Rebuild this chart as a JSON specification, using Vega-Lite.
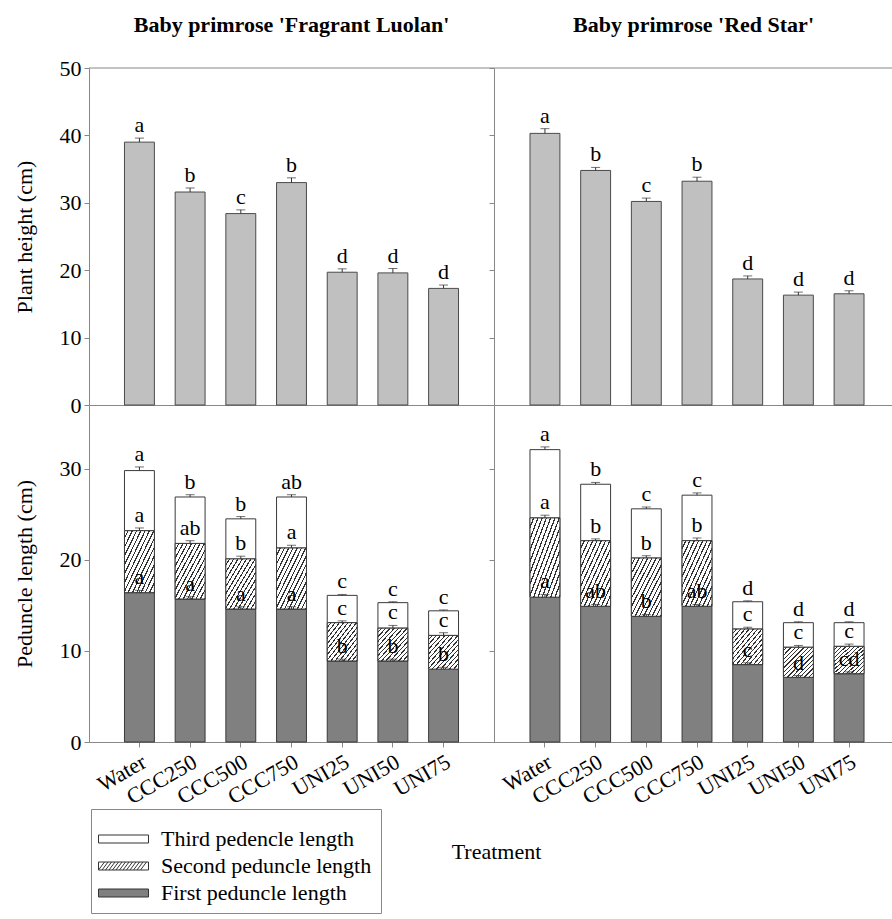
{
  "$schema": "https://vega.github.io/schema/vega-lite/v6.json",
  "padding": {"left": 13, "top": 13, "right": 0, "bottom": 0},
  "bounds": "flush",
  "spacing": 0,
  "columns": 2,
  "config": {
    "font": "Liberation Serif",
    "view": {"stroke": null},
    "axis": {"grid": false, "domainColor": "#888", "tickColor": "#888", "labelFontSize": 22, "titleFontSize": 22, "titleFontWeight": "normal", "labelColor": "#000", "titleColor": "#000", "tickSize": 5, "labelPadding": 3},
    "title": {"fontSize": 22, "fontWeight": "bold", "color": "#000"}
  },
  "datasets": {
    "height": [
      {"c": "Fragrant Luolan", "t": "Water", "v": 39.0, "up": 39.6, "g": "a"},
      {"c": "Fragrant Luolan", "t": "CCC250", "v": 31.6, "up": 32.2, "g": "b"},
      {"c": "Fragrant Luolan", "t": "CCC500", "v": 28.4, "up": 28.95, "g": "c"},
      {"c": "Fragrant Luolan", "t": "CCC750", "v": 33.0, "up": 33.7, "g": "b"},
      {"c": "Fragrant Luolan", "t": "UNI25", "v": 19.7, "up": 20.2, "g": "d"},
      {"c": "Fragrant Luolan", "t": "UNI50", "v": 19.6, "up": 20.25, "g": "d"},
      {"c": "Fragrant Luolan", "t": "UNI75", "v": 17.3, "up": 17.8, "g": "d"},
      {"c": "Red Star", "t": "Water", "v": 40.3, "up": 41.0, "g": "a"},
      {"c": "Red Star", "t": "CCC250", "v": 34.8, "up": 35.25, "g": "b"},
      {"c": "Red Star", "t": "CCC500", "v": 30.2, "up": 30.7, "g": "c"},
      {"c": "Red Star", "t": "CCC750", "v": 33.2, "up": 33.8, "g": "b"},
      {"c": "Red Star", "t": "UNI25", "v": 18.7, "up": 19.15, "g": "d"},
      {"c": "Red Star", "t": "UNI50", "v": 16.3, "up": 16.75, "g": "d"},
      {"c": "Red Star", "t": "UNI75", "v": 16.5, "up": 16.95, "g": "d"}
    ],
    "ped": [
      {"c": "Fragrant Luolan", "t": "Water", "s": "First peduncle length", "lo": 0, "hi": 16.4, "up": 16.65, "g": "a"},
      {"c": "Fragrant Luolan", "t": "Water", "s": "Second peduncle length", "lo": 16.4, "hi": 23.2, "up": 23.5, "g": "a"},
      {"c": "Fragrant Luolan", "t": "Water", "s": "Third pedencle length", "lo": 23.2, "hi": 29.8, "up": 30.2, "g": "a"},
      {"c": "Fragrant Luolan", "t": "CCC250", "s": "First peduncle length", "lo": 0, "hi": 15.7, "up": 15.95, "g": "a"},
      {"c": "Fragrant Luolan", "t": "CCC250", "s": "Second peduncle length", "lo": 15.7, "hi": 21.8, "up": 22.1, "g": "ab"},
      {"c": "Fragrant Luolan", "t": "CCC250", "s": "Third pedencle length", "lo": 21.8, "hi": 26.9, "up": 27.15, "g": "b"},
      {"c": "Fragrant Luolan", "t": "CCC500", "s": "First peduncle length", "lo": 0, "hi": 14.6, "up": 14.85, "g": "a"},
      {"c": "Fragrant Luolan", "t": "CCC500", "s": "Second peduncle length", "lo": 14.6, "hi": 20.1, "up": 20.4, "g": "b"},
      {"c": "Fragrant Luolan", "t": "CCC500", "s": "Third pedencle length", "lo": 20.1, "hi": 24.5, "up": 24.75, "g": "b"},
      {"c": "Fragrant Luolan", "t": "CCC750", "s": "First peduncle length", "lo": 0, "hi": 14.6, "up": 14.85, "g": "a"},
      {"c": "Fragrant Luolan", "t": "CCC750", "s": "Second peduncle length", "lo": 14.6, "hi": 21.3, "up": 21.6, "g": "a"},
      {"c": "Fragrant Luolan", "t": "CCC750", "s": "Third pedencle length", "lo": 21.3, "hi": 26.9, "up": 27.15, "g": "ab"},
      {"c": "Fragrant Luolan", "t": "UNI25", "s": "First peduncle length", "lo": 0, "hi": 8.9, "up": 9.1, "g": "b"},
      {"c": "Fragrant Luolan", "t": "UNI25", "s": "Second peduncle length", "lo": 8.9, "hi": 13.1, "up": 13.3, "g": "c"},
      {"c": "Fragrant Luolan", "t": "UNI25", "s": "Third pedencle length", "lo": 13.1, "hi": 16.1, "up": 16.2, "g": "c"},
      {"c": "Fragrant Luolan", "t": "UNI50", "s": "First peduncle length", "lo": 0, "hi": 8.9, "up": 9.1, "g": "b"},
      {"c": "Fragrant Luolan", "t": "UNI50", "s": "Second peduncle length", "lo": 8.9, "hi": 12.5, "up": 12.8, "g": "c"},
      {"c": "Fragrant Luolan", "t": "UNI50", "s": "Third pedencle length", "lo": 12.5, "hi": 15.3, "up": 15.4, "g": "c"},
      {"c": "Fragrant Luolan", "t": "UNI75", "s": "First peduncle length", "lo": 0, "hi": 8.0, "up": 8.2, "g": "b"},
      {"c": "Fragrant Luolan", "t": "UNI75", "s": "Second peduncle length", "lo": 8.0, "hi": 11.7, "up": 12.0, "g": "c"},
      {"c": "Fragrant Luolan", "t": "UNI75", "s": "Third pedencle length", "lo": 11.7, "hi": 14.4, "up": 14.5, "g": "c"},
      {"c": "Red Star", "t": "Water", "s": "First peduncle length", "lo": 0, "hi": 15.9, "up": 16.2, "g": "a"},
      {"c": "Red Star", "t": "Water", "s": "Second peduncle length", "lo": 15.9, "hi": 24.6, "up": 24.9, "g": "a"},
      {"c": "Red Star", "t": "Water", "s": "Third pedencle length", "lo": 24.6, "hi": 32.1, "up": 32.4, "g": "a"},
      {"c": "Red Star", "t": "CCC250", "s": "First peduncle length", "lo": 0, "hi": 14.9, "up": 15.1, "g": "ab"},
      {"c": "Red Star", "t": "CCC250", "s": "Second peduncle length", "lo": 14.9, "hi": 22.1, "up": 22.3, "g": "b"},
      {"c": "Red Star", "t": "CCC250", "s": "Third pedencle length", "lo": 22.1, "hi": 28.3, "up": 28.5, "g": "b"},
      {"c": "Red Star", "t": "CCC500", "s": "First peduncle length", "lo": 0, "hi": 13.8, "up": 14.0, "g": "b"},
      {"c": "Red Star", "t": "CCC500", "s": "Second peduncle length", "lo": 13.8, "hi": 20.2, "up": 20.45, "g": "b"},
      {"c": "Red Star", "t": "CCC500", "s": "Third pedencle length", "lo": 20.2, "hi": 25.6, "up": 25.8, "g": "c"},
      {"c": "Red Star", "t": "CCC750", "s": "First peduncle length", "lo": 0, "hi": 14.9, "up": 15.1, "g": "ab"},
      {"c": "Red Star", "t": "CCC750", "s": "Second peduncle length", "lo": 14.9, "hi": 22.1, "up": 22.4, "g": "b"},
      {"c": "Red Star", "t": "CCC750", "s": "Third pedencle length", "lo": 22.1, "hi": 27.1, "up": 27.35, "g": "c"},
      {"c": "Red Star", "t": "UNI25", "s": "First peduncle length", "lo": 0, "hi": 8.5, "up": 8.7, "g": "c"},
      {"c": "Red Star", "t": "UNI25", "s": "Second peduncle length", "lo": 8.5, "hi": 12.4, "up": 12.6, "g": "c"},
      {"c": "Red Star", "t": "UNI25", "s": "Third pedencle length", "lo": 12.4, "hi": 15.4, "up": 15.5, "g": "d"},
      {"c": "Red Star", "t": "UNI50", "s": "First peduncle length", "lo": 0, "hi": 7.1, "up": 7.3, "g": "d"},
      {"c": "Red Star", "t": "UNI50", "s": "Second peduncle length", "lo": 7.1, "hi": 10.4, "up": 10.6, "g": "c"},
      {"c": "Red Star", "t": "UNI50", "s": "Third pedencle length", "lo": 10.4, "hi": 13.1, "up": 13.2, "g": "d"},
      {"c": "Red Star", "t": "UNI75", "s": "First peduncle length", "lo": 0, "hi": 7.5, "up": 7.7, "g": "cd"},
      {"c": "Red Star", "t": "UNI75", "s": "Second peduncle length", "lo": 7.5, "hi": 10.5, "up": 10.75, "g": "c"},
      {"c": "Red Star", "t": "UNI75", "s": "Third pedencle length", "lo": 10.5, "hi": 13.1, "up": 13.2, "g": "d"}
    ]
  },
  "resolve": {"scale": {"fill": "independent"}, "legend": {"fill": "independent"}},
  "concat": [
    {
      "width": 405, "height": 337,
      "title": {"text": "Baby primrose 'Fragrant Luolan'", "offset": 20},
      "data": {"name": "height"},
      "transform": [{"filter": "datum.c === 'Fragrant Luolan'"}],
      "layer": [
        {"mark": {"type": "bar", "fill": "#c0c0c0", "stroke": "#4a4a4a", "strokeWidth": 1},
         "encoding": {
           "x": {"field": "t", "type": "nominal", "sort": ["Water","CCC250","CCC500","CCC750","UNI25","UNI50","UNI75"], "scale": {"paddingInner": 0.41, "paddingOuter": 0.7}, "axis": {"title": null, "labels": false, "ticks": false, "domain": true}},
           "y": {"field": "v", "type": "quantitative", "scale": {"domain": [0, 50], "nice": false}, "axis": {"title": "Plant height (cm)", "values": [0,10,20,30,40,50], "titlePadding": 23}}
         }},
        {"mark": {"type": "rule", "color": "#333", "strokeWidth": 1},
         "encoding": {"x": {"field": "t", "type": "nominal", "sort": ["Water","CCC250","CCC500","CCC750","UNI25","UNI50","UNI75"]}, "y": {"field": "v", "type": "quantitative"}, "y2": {"field": "up"}}},
        {"mark": {"type": "tick", "color": "#333", "size": 9, "thickness": 1},
         "encoding": {"x": {"field": "t", "type": "nominal", "sort": ["Water","CCC250","CCC500","CCC750","UNI25","UNI50","UNI75"]}, "y": {"field": "up", "type": "quantitative"}}},
        {"mark": {"type": "text", "dy": -6, "baseline": "alphabetic", "fontSize": 22, "color": "#000"},
         "encoding": {"x": {"field": "t", "type": "nominal", "sort": ["Water","CCC250","CCC500","CCC750","UNI25","UNI50","UNI75"]}, "y": {"field": "up", "type": "quantitative"}, "text": {"field": "g"}}},
        {"data": {"values": [{}]}, "mark": {"type": "rule", "color": "#888", "strokeWidth": 1},
         "encoding": {"y": {"datum": 50, "type": "quantitative"}}}
      ]
    },
    {
      "width": 399, "height": 337,
      "title": {"text": "Baby primrose 'Red Star'", "offset": 31},
      "data": {"name": "height"},
      "transform": [{"filter": "datum.c === 'Red Star'"}],
      "layer": [
        {"mark": {"type": "bar", "fill": "#c0c0c0", "stroke": "#4a4a4a", "strokeWidth": 1},
         "encoding": {
           "x": {"field": "t", "type": "nominal", "sort": ["Water","CCC250","CCC500","CCC750","UNI25","UNI50","UNI75"], "scale": {"paddingInner": 0.41, "paddingOuter": 0.6407, "align": 0.554}, "axis": {"title": null, "labels": false, "ticks": false, "domain": true}},
           "y": {"field": "v", "type": "quantitative", "scale": {"domain": [0, 50], "nice": false}, "axis": {"title": null, "labels": false, "values": [0,10,20,30,40,50]}}
         }},
        {"mark": {"type": "rule", "color": "#333", "strokeWidth": 1},
         "encoding": {"x": {"field": "t", "type": "nominal", "sort": ["Water","CCC250","CCC500","CCC750","UNI25","UNI50","UNI75"]}, "y": {"field": "v", "type": "quantitative"}, "y2": {"field": "up"}}},
        {"mark": {"type": "tick", "color": "#333", "size": 9, "thickness": 1},
         "encoding": {"x": {"field": "t", "type": "nominal", "sort": ["Water","CCC250","CCC500","CCC750","UNI25","UNI50","UNI75"]}, "y": {"field": "up", "type": "quantitative"}}},
        {"mark": {"type": "text", "dy": -6, "baseline": "alphabetic", "fontSize": 22, "color": "#000"},
         "encoding": {"x": {"field": "t", "type": "nominal", "sort": ["Water","CCC250","CCC500","CCC750","UNI25","UNI50","UNI75"]}, "y": {"field": "up", "type": "quantitative"}, "text": {"field": "g"}}},
        {"data": {"values": [{}]}, "mark": {"type": "rule", "color": "#888", "strokeWidth": 1},
         "encoding": {"y": {"datum": 50, "type": "quantitative"}}}
      ]
    },
    {
      "width": 405, "height": 337,
      "data": {"name": "ped"},
      "transform": [{"filter": "datum.c === 'Fragrant Luolan'"}],
      "layer": [
        {"mark": {"type": "bar", "stroke": "#3a3a3a", "strokeWidth": 1},
         "encoding": {
           "x": {"field": "t", "type": "nominal", "sort": ["Water","CCC250","CCC500","CCC750","UNI25","UNI50","UNI75"], "scale": {"paddingInner": 0.41, "paddingOuter": 0.7}, "axis": {"title": "Treatment", "titleX": 407, "titleY": 116, "titleAlign": "center", "titleBaseline": "alphabetic", "labelAngle": -30, "labelAlign": "right", "labelBaseline": "top", "labelPadding": 4}},
           "y": {"field": "hi", "type": "quantitative", "scale": {"domain": [0, 37], "nice": false}, "axis": {"title": "Peduncle length (cm)", "values": [0,10,20,30], "titlePadding": 23}},
           "y2": {"field": "lo"},
           "fill": {"field": "s", "type": "nominal",
             "scale": {"domain": ["Third pedencle length", "Second peduncle length", "First peduncle length"], "range": ["#ffffff", "#ffffff", "#808080"]},
             "legend": {"orient": "none", "legendX": 2, "legendY": 404, "title": " ", "titleFontSize": 8, "titlePadding": 2, "padding": 9,
               "symbolType": "M-2.5,-0.8H7.5V0.8H-2.5Z", "symbolSize": 100, "symbolStrokeColor": "#333", "symbolStrokeWidth": 1,
               "labelFontSize": 22, "labelOffset": 39, "labelColor": "#000", "rowPadding": 5, "strokeColor": "#888", "fillColor": "#fff", "labelLimit": 400,
               "encode": {"symbols": {"update": {
                 "fill": [{"test": "datum.value === 'First peduncle length'", "value": "#808080"}, {"value": "#ffffff"}],
                 "shape": [{"test": "datum.value === 'Second peduncle length'", "value": "M-2.5,-0.8H7.5V0.8H-2.5Z M-2.5,0.8L-1.3,-0.8 M-1.8,0.8L-0.6,-0.8 M-1.1,0.8L0.1,-0.8 M-0.4,0.8L0.8,-0.8 M0.3,0.8L1.5,-0.8 M1,0.8L2.2,-0.8 M1.7,0.8L2.9,-0.8 M2.4,0.8L3.6,-0.8 M3.1,0.8L4.3,-0.8 M3.8,0.8L5,-0.8 M4.5,0.8L5.7,-0.8 M5.2,0.8L6.4,-0.8 M5.9,0.8L7.1,-0.8"}, {"value": "M-2.5,-0.8H7.5V0.8H-2.5Z"}],
                 "stroke": {"value": "#333"},
                 "strokeWidth": {"value": 1}}}}}}
         }},
        {"transform": [{"filter": "datum.s === 'Second peduncle length'"}],
         "mark": {"type": "bar", "stroke": "#3a3a3a", "strokeWidth": 1,
           "fill": {"gradient": "linear", "x1": 0, "y1": 0, "x2": 1, "y2": 1, "stops": [
             {"offset":0,"color":"#fff"},{"offset":0.05,"color":"#fff"},{"offset":0.05,"color":"#333"},{"offset":0.0714,"color":"#333"},
             {"offset":0.0714,"color":"#fff"},{"offset":0.1214,"color":"#fff"},{"offset":0.1214,"color":"#333"},{"offset":0.1429,"color":"#333"},
             {"offset":0.1429,"color":"#fff"},{"offset":0.1929,"color":"#fff"},{"offset":0.1929,"color":"#333"},{"offset":0.2143,"color":"#333"},
             {"offset":0.2143,"color":"#fff"},{"offset":0.2643,"color":"#fff"},{"offset":0.2643,"color":"#333"},{"offset":0.2857,"color":"#333"},
             {"offset":0.2857,"color":"#fff"},{"offset":0.3357,"color":"#fff"},{"offset":0.3357,"color":"#333"},{"offset":0.3571,"color":"#333"},
             {"offset":0.3571,"color":"#fff"},{"offset":0.4071,"color":"#fff"},{"offset":0.4071,"color":"#333"},{"offset":0.4286,"color":"#333"},
             {"offset":0.4286,"color":"#fff"},{"offset":0.4786,"color":"#fff"},{"offset":0.4786,"color":"#333"},{"offset":0.5,"color":"#333"},
             {"offset":0.5,"color":"#fff"},{"offset":0.55,"color":"#fff"},{"offset":0.55,"color":"#333"},{"offset":0.5714,"color":"#333"},
             {"offset":0.5714,"color":"#fff"},{"offset":0.6214,"color":"#fff"},{"offset":0.6214,"color":"#333"},{"offset":0.6429,"color":"#333"},
             {"offset":0.6429,"color":"#fff"},{"offset":0.6929,"color":"#fff"},{"offset":0.6929,"color":"#333"},{"offset":0.7143,"color":"#333"},
             {"offset":0.7143,"color":"#fff"},{"offset":0.7643,"color":"#fff"},{"offset":0.7643,"color":"#333"},{"offset":0.7857,"color":"#333"},
             {"offset":0.7857,"color":"#fff"},{"offset":0.8357,"color":"#fff"},{"offset":0.8357,"color":"#333"},{"offset":0.8571,"color":"#333"},
             {"offset":0.8571,"color":"#fff"},{"offset":0.9071,"color":"#fff"},{"offset":0.9071,"color":"#333"},{"offset":0.9286,"color":"#333"},
             {"offset":0.9286,"color":"#fff"},{"offset":0.9786,"color":"#fff"},{"offset":0.9786,"color":"#333"},{"offset":1,"color":"#333"}]}},
         "encoding": {"x": {"field": "t", "type": "nominal", "sort": ["Water","CCC250","CCC500","CCC750","UNI25","UNI50","UNI75"]}, "y": {"field": "hi", "type": "quantitative"}, "y2": {"field": "lo"}}},
        {"mark": {"type": "rule", "color": "#333", "strokeWidth": 1},
         "encoding": {"x": {"field": "t", "type": "nominal", "sort": ["Water","CCC250","CCC500","CCC750","UNI25","UNI50","UNI75"]}, "y": {"field": "hi", "type": "quantitative"}, "y2": {"field": "up"}}},
        {"mark": {"type": "tick", "color": "#333", "size": 9, "thickness": 1},
         "encoding": {"x": {"field": "t", "type": "nominal", "sort": ["Water","CCC250","CCC500","CCC750","UNI25","UNI50","UNI75"]}, "y": {"field": "up", "type": "quantitative"}}},
        {"mark": {"type": "text", "dy": -6, "baseline": "alphabetic", "fontSize": 22, "color": "#000"},
         "encoding": {"x": {"field": "t", "type": "nominal", "sort": ["Water","CCC250","CCC500","CCC750","UNI25","UNI50","UNI75"]}, "y": {"field": "up", "type": "quantitative"}, "text": {"field": "g"}}}
      ]
    },
    {
      "width": 399, "height": 337,
      "data": {"name": "ped"},
      "transform": [{"filter": "datum.c === 'Red Star'"}],
      "layer": [
        {"mark": {"type": "bar", "stroke": "#3a3a3a", "strokeWidth": 1},
         "encoding": {
           "x": {"field": "t", "type": "nominal", "sort": ["Water","CCC250","CCC500","CCC750","UNI25","UNI50","UNI75"], "scale": {"paddingInner": 0.41, "paddingOuter": 0.6407, "align": 0.554}, "axis": {"title": null, "labelAngle": -30, "labelAlign": "right", "labelBaseline": "top", "labelPadding": 4}},
           "y": {"field": "hi", "type": "quantitative", "scale": {"domain": [0, 37], "nice": false}, "axis": {"title": null, "labels": false, "values": [0,10,20,30]}},
           "y2": {"field": "lo"},
           "fill": {"field": "s", "type": "nominal",
             "scale": {"domain": ["Third pedencle length", "Second peduncle length", "First peduncle length"], "range": ["#ffffff", "#ffffff", "#808080"]},
             "legend": null}
         }},
        {"transform": [{"filter": "datum.s === 'Second peduncle length'"}],
         "mark": {"type": "bar", "stroke": "#3a3a3a", "strokeWidth": 1,
           "fill": {"gradient": "linear", "x1": 0, "y1": 0, "x2": 1, "y2": 1, "stops": [
             {"offset":0,"color":"#fff"},{"offset":0.05,"color":"#fff"},{"offset":0.05,"color":"#333"},{"offset":0.0714,"color":"#333"},
             {"offset":0.0714,"color":"#fff"},{"offset":0.1214,"color":"#fff"},{"offset":0.1214,"color":"#333"},{"offset":0.1429,"color":"#333"},
             {"offset":0.1429,"color":"#fff"},{"offset":0.1929,"color":"#fff"},{"offset":0.1929,"color":"#333"},{"offset":0.2143,"color":"#333"},
             {"offset":0.2143,"color":"#fff"},{"offset":0.2643,"color":"#fff"},{"offset":0.2643,"color":"#333"},{"offset":0.2857,"color":"#333"},
             {"offset":0.2857,"color":"#fff"},{"offset":0.3357,"color":"#fff"},{"offset":0.3357,"color":"#333"},{"offset":0.3571,"color":"#333"},
             {"offset":0.3571,"color":"#fff"},{"offset":0.4071,"color":"#fff"},{"offset":0.4071,"color":"#333"},{"offset":0.4286,"color":"#333"},
             {"offset":0.4286,"color":"#fff"},{"offset":0.4786,"color":"#fff"},{"offset":0.4786,"color":"#333"},{"offset":0.5,"color":"#333"},
             {"offset":0.5,"color":"#fff"},{"offset":0.55,"color":"#fff"},{"offset":0.55,"color":"#333"},{"offset":0.5714,"color":"#333"},
             {"offset":0.5714,"color":"#fff"},{"offset":0.6214,"color":"#fff"},{"offset":0.6214,"color":"#333"},{"offset":0.6429,"color":"#333"},
             {"offset":0.6429,"color":"#fff"},{"offset":0.6929,"color":"#fff"},{"offset":0.6929,"color":"#333"},{"offset":0.7143,"color":"#333"},
             {"offset":0.7143,"color":"#fff"},{"offset":0.7643,"color":"#fff"},{"offset":0.7643,"color":"#333"},{"offset":0.7857,"color":"#333"},
             {"offset":0.7857,"color":"#fff"},{"offset":0.8357,"color":"#fff"},{"offset":0.8357,"color":"#333"},{"offset":0.8571,"color":"#333"},
             {"offset":0.8571,"color":"#fff"},{"offset":0.9071,"color":"#fff"},{"offset":0.9071,"color":"#333"},{"offset":0.9286,"color":"#333"},
             {"offset":0.9286,"color":"#fff"},{"offset":0.9786,"color":"#fff"},{"offset":0.9786,"color":"#333"},{"offset":1,"color":"#333"}]}},
         "encoding": {"x": {"field": "t", "type": "nominal", "sort": ["Water","CCC250","CCC500","CCC750","UNI25","UNI50","UNI75"]}, "y": {"field": "hi", "type": "quantitative"}, "y2": {"field": "lo"}}},
        {"mark": {"type": "rule", "color": "#333", "strokeWidth": 1},
         "encoding": {"x": {"field": "t", "type": "nominal", "sort": ["Water","CCC250","CCC500","CCC750","UNI25","UNI50","UNI75"]}, "y": {"field": "hi", "type": "quantitative"}, "y2": {"field": "up"}}},
        {"mark": {"type": "tick", "color": "#333", "size": 9, "thickness": 1},
         "encoding": {"x": {"field": "t", "type": "nominal", "sort": ["Water","CCC250","CCC500","CCC750","UNI25","UNI50","UNI75"]}, "y": {"field": "up", "type": "quantitative"}}},
        {"mark": {"type": "text", "dy": -6, "baseline": "alphabetic", "fontSize": 22, "color": "#000"},
         "encoding": {"x": {"field": "t", "type": "nominal", "sort": ["Water","CCC250","CCC500","CCC750","UNI25","UNI50","UNI75"]}, "y": {"field": "up", "type": "quantitative"}, "text": {"field": "g"}}}
      ]
    }
  ]
}
